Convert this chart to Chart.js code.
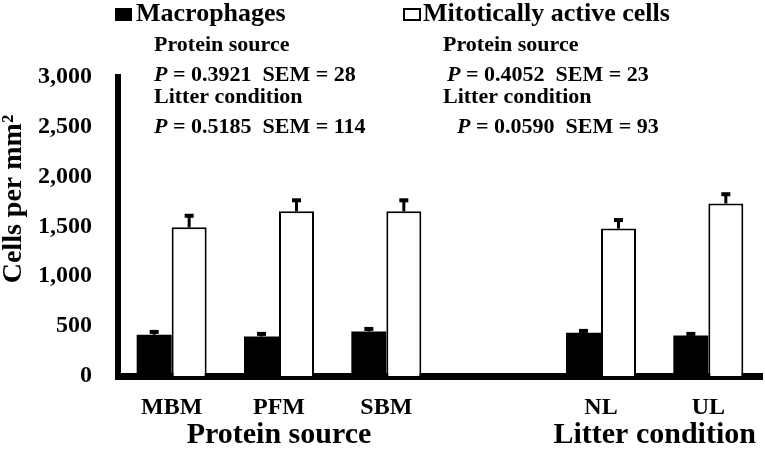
<!DOCTYPE html>
<html>
<head>
<meta charset="utf-8">
<script src="https://cdn.jsdelivr.net/npm/chart.js@4.4.1/dist/chart.umd.min.js"></script>
<style>
html,body{margin:0;padding:0;background:#fff;}
#wrap{width:765px;height:457px;}
</style>
</head>
<body>
<div id="wrap"><canvas id="c" width="765" height="457"></canvas></div>
<script>
// ---- data ----
const categories = ['MBM', 'PFM', 'SBM', '', 'NL', 'UL'];
const macrophages = [414, 397, 447, null, 434, 407];
const macrophagesErr = [28, 25, 25, null, 18, 15];
const mitotic = [1491, 1651, 1651, null, 1478, 1729];
const mitoticErr = [115, 110, 110, null, 85, 93];
const yTickMin = 0;
const yTickMax = 3000;
const yTickStep = 500;
const seriesNames = ['Macrophages', 'Mitotically active cells'];
const groupTitles = ['Protein source', 'Litter condition'];
const groupMembers = [[0, 2], [4, 5]];
const yTitle = 'Cells per mm\u00B2';
const statsMacro = [['Protein source', '0.3921', '28'], ['Litter condition', '0.5185', '114']];
const statsMito = [['Protein source', '0.4052', '23'], ['Litter condition', '0.0590', '93']];

const FONT = "'Liberation Serif', 'Times New Roman', serif";

function drawPRow(ctx, x, y, pVal, sem) {
  ctx.font = 'italic bold 22px ' + FONT;
  ctx.fillText('P', x, y);
  const w = ctx.measureText('P').width;
  ctx.font = 'bold 22px ' + FONT;
  ctx.fillText(' = ' + pVal + '  SEM = ' + sem, x + w, y);
}

const overlay = {
  id: 'overlay',
  afterDatasetsDraw(chart) {
    const ctx = chart.ctx;
    const ys = chart.scales.y;
    [[0, macrophagesErr], [1, mitoticErr]].forEach(([di, errs]) => {
      const meta = chart.getDatasetMeta(di);
      const vals = chart.data.datasets[di].data;
      meta.data.forEach((bar, i) => {
        if (vals[i] == null || errs[i] == null) return;
        const top = ys.getPixelForValue(vals[i]);
        const end = ys.getPixelForValue(vals[i] + errs[i]);
        ctx.save();
        ctx.fillStyle = '#000';
        ctx.fillRect(bar.x - 1.5, end, 3, top - end);
        ctx.fillRect(bar.x - 4.5, end - 2, 9, 4);
        ctx.restore();
      });
    });
  },
  afterDraw(chart) {
    const ctx = chart.ctx;
    ctx.save();
    ctx.fillStyle = '#000';
    ctx.strokeStyle = '#000';
    ctx.textBaseline = 'alphabetic';
    ctx.textAlign = 'left';

    // legend
    ctx.fillRect(115, 8, 17, 13);
    ctx.font = 'bold 26px ' + FONT;
    ctx.fillText(seriesNames[0], 136, 20.7);
    ctx.lineWidth = 2;
    ctx.strokeRect(404, 9, 16, 11);
    ctx.fillText(seriesNames[1], 423, 20.7);

    // stats (left column)
    ctx.font = 'bold 22px ' + FONT;
    ctx.fillText(statsMacro[0][0], 154, 50.7);
    drawPRow(ctx, 154, 81, statsMacro[0][1], statsMacro[0][2]);
    ctx.font = 'bold 22px ' + FONT;
    ctx.fillText(statsMacro[1][0], 154, 102.7);
    drawPRow(ctx, 154, 132.7, statsMacro[1][1], statsMacro[1][2]);

    // stats (right column)
    ctx.font = 'bold 22px ' + FONT;
    ctx.fillText(statsMito[0][0], 443, 50.7);
    drawPRow(ctx, 447, 81, statsMito[0][1], statsMito[0][2]);
    ctx.font = 'bold 22px ' + FONT;
    ctx.fillText(statsMito[1][0], 443, 102.7);
    drawPRow(ctx, 457, 132.7, statsMito[1][1], statsMito[1][2]);

    // group titles under the x axis
    const xs = chart.scales.x;
    ctx.font = 'bold 30px ' + FONT;
    ctx.textAlign = 'center';
    groupMembers.forEach((g, k) => {
      const cx = (xs.getPixelForValue(g[0]) + xs.getPixelForValue(g[1])) / 2;
      ctx.fillText(groupTitles[k], cx, 443);
    });

    // y axis title
    ctx.translate(21, 199);
    ctx.rotate(-Math.PI / 2);
    ctx.font = 'bold 28px ' + FONT;
    ctx.textAlign = 'center';
    ctx.fillText(yTitle, 0, 0);
    ctx.restore();
  }
};

new Chart(document.getElementById('c'), {
  type: 'bar',
  data: {
    labels: categories,
    datasets: [
      {
        label: seriesNames[0],
        data: macrophages,
        backgroundColor: '#000',
        borderWidth: 0,
        barPercentage: 1,
        categoryPercentage: 0.652
      },
      {
        label: seriesNames[1],
        data: mitotic,
        backgroundColor: '#fff',
        borderColor: '#000',
        borderWidth: 2,
        barPercentage: 1,
        categoryPercentage: 0.652
      }
    ]
  },
  options: {
    responsive: false,
    devicePixelRatio: 1,
    animation: false,
    layout: { padding: { top: 76.7, right: 3, bottom: 0, left: 0 } },
    plugins: { legend: { display: false }, tooltip: { enabled: false } },
    scales: {
      x: {
        z: 1,
        grid: { display: false, drawTicks: false },
        border: { display: true, width: 7, color: '#000' },
        ticks: {
          color: '#000',
          font: { family: FONT, size: 24, weight: 'bold' },
          padding: 17.2,
          maxRotation: 0,
          autoSkip: false
        },
        afterFit(scale) { scale.height = 81; }
      },
      y: {
        z: 1,
        min: yTickMin,
        max: yTickMax,
        grid: { display: false, drawTicks: false },
        border: { display: true, width: 6, color: '#000' },
        ticks: {
          stepSize: yTickStep,
          color: '#000',
          font: { family: FONT, size: 24, weight: 'bold' },
          padding: 26,
          callback: (v) => Number(v).toLocaleString('en-US')
        },
        afterFit(scale) { scale.width = 118; }
      }
    }
  },
  plugins: [overlay]
});
</script>
</body>
</html>
